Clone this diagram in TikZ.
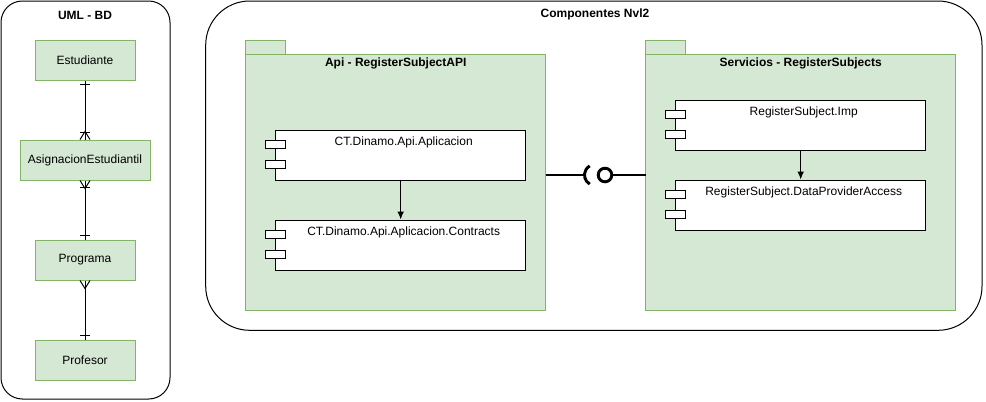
\documentclass[tikz,border=0pt]{standalone}
\usepackage{fontspec}
\setmainfont{Liberation Sans}
\usetikzlibrary{arrows.meta,calc}
\definecolor{gfill}{HTML}{D5E8D4}
\definecolor{gline}{HTML}{82B366}
\tikzset{
  px/.style={x=0.75pt,y=-0.75pt},
  entity/.style={draw=gline,fill=gfill,line width=0.75pt,minimum width=75pt,minimum height=30pt,inner sep=0pt,font=\fontsize{9}{11}\selectfont},
  container/.style={draw=black,line width=0.75pt},
  pkg/.style={draw=gline,fill=gfill,line width=0.75pt},
  comp/.style={draw=black,fill=white,line width=0.75pt,minimum width=187.5pt,minimum height=37.5pt,inner sep=0pt},
  port/.style={draw=black,fill=white,line width=0.75pt,minimum width=15pt,minimum height=6pt,inner sep=0pt},
  ctext/.style={font=\fontsize{9}{11}\selectfont,inner sep=0pt},
  ttl/.style={font=\bfseries\fontsize{9}{11}\selectfont,inner sep=0pt},
  conn/.style={draw=black,line width=0.75pt},
  dep/.style={draw=black,line width=0.75pt,-{Latex[length=6pt,width=5pt]}},
  iface/.style={draw=black,line width=2.2pt}
}
\begin{document}
\begin{tikzpicture}[px]
\useasboundingbox (0,0) rectangle (986,401);
% left container
\draw[container,rounded corners=16pt] (1,1) rectangle (170,399);
\node[ttl] (t1) at (85,15) {UML - BD};
\node[entity] (est) at (85,60) {Estudiante};
\node[entity,minimum width=97.5pt] (asig) at (85,160) {AsignacionEstudiantil};
\node[entity] (prog) at (85,260) {Programa};
\node[entity] (prof) at (85,360) {Profesor};
% ER connectors
\draw[conn] (est.south) -- (asig.north);
\draw[conn] ($(est.south)+(-5,4)$) -- ($(est.south)+(5,4)$);
\draw[conn] ($(asig.north)+(-5,-7)$) -- ($(asig.north)+(5,-7)$);
\draw[conn] ($(asig.north)+(-5,0)$) -- ($(asig.north)+(0,-8)$) -- ($(asig.north)+(5,0)$);
\draw[conn] (asig.south) -- (prog.north);
\draw[conn] ($(asig.south)+(-5,7)$) -- ($(asig.south)+(5,7)$);
\draw[conn] ($(asig.south)+(-5,0)$) -- ($(asig.south)+(0,8)$) -- ($(asig.south)+(5,0)$);
\draw[conn] ($(prog.north)+(-5,-4)$) -- ($(prog.north)+(5,-4)$);
\draw[conn] (prog.south) -- (prof.north);
\draw[conn] ($(prog.south)+(-5,0)$) -- ($(prog.south)+(0,8)$) -- ($(prog.south)+(5,0)$);
\draw[conn] ($(prof.north)+(-5,-4)$) -- ($(prof.north)+(5,-4)$);
% right container
\draw[container,rounded corners=33pt] (205.7,1) rectangle (982,330.3);
\node[ttl] (t2) at (595,14) {Componentes Nvl2};
% package Api
\draw[pkg] (245.7,40) rectangle (285.7,54.3);
\draw[pkg] (245.7,54.3) rectangle (545.7,310);
\coordinate (apiR) at (545.7,175);
\node[ttl] (t3) at (395.7,63) {Api - RegisterSubjectAPI};
\node[comp] (app) at (400.7,155) {};
\node[comp] (con) at (400.7,245) {};
% package Servicios
\draw[pkg] (645.7,40) rectangle (685.7,54.3);
\draw[pkg] (645.7,54.3) rectangle (955.7,310);
\coordinate (srvL) at (645.7,175);
\node[ttl] (t4) at (800.7,63) {Servicios - RegisterSubjects};
\node[comp] (imp) at (800.7,125) {};
\node[comp] (dpa) at (800.7,205) {};
% ports and texts
\foreach \c/\t in {app/CT.Dinamo.Api.Aplicacion,con/CT.Dinamo.Api.Aplicacion.Contracts,imp/RegisterSubject.Imp,dpa/RegisterSubject.DataProviderAccess}{
  \node[port] at ($(\c.north west)+(0,15)$) {};
  \node[port] at ($(\c.north west)+(0,35)$) {};
  \node[ctext] at ($(\c.north)+(3,13)$) {\t};
}
% dependencies
\draw[dep] (app.south) -- (con.north);
\draw[dep] (imp.south) -- (dpa.north);
% interface
\coordinate (sock) at (595,175);
\coordinate (ball) at (605,175);
\draw[iface] (apiR) -- (584,175);
\draw[iface] ($(sock)+(120:10.5)$) arc[start angle=120,end angle=240,radius=10.5];
\draw[iface] (ball) circle[radius=6.8];
\draw[iface] ($(ball)+(6.8,0)$) -- (srvL);
\end{tikzpicture}
\end{document}
